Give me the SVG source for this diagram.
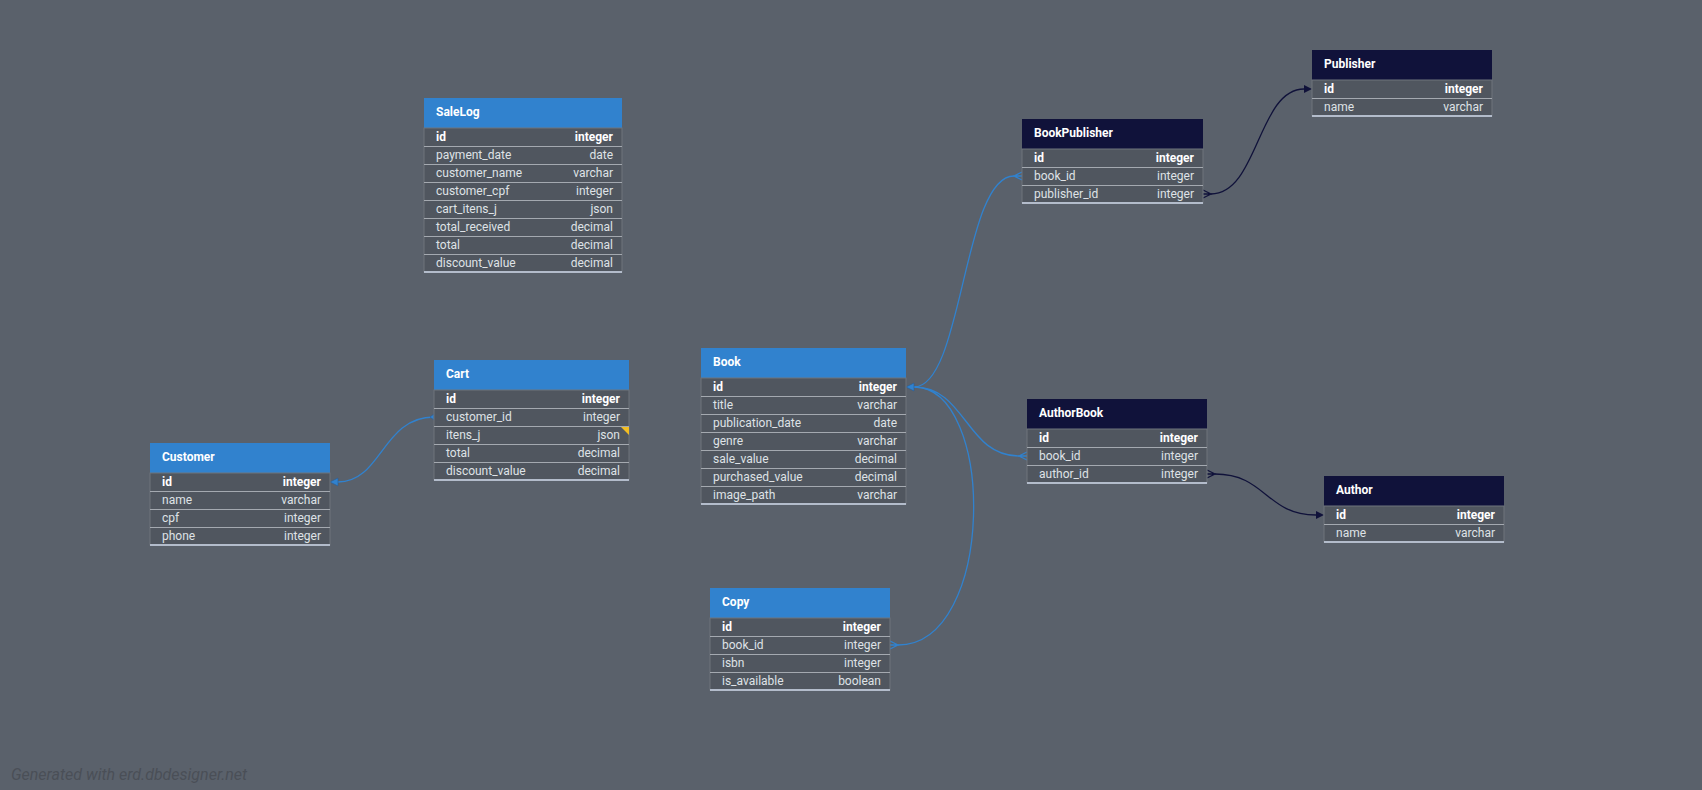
<svg xmlns="http://www.w3.org/2000/svg" width="1702" height="790" viewBox="0 0 1702 790">
  <style>
    .bg { fill: #5a616b; }
    .hb { fill: #3182ce; }
    .hd { fill: #10123a; }
    .body { fill: #50565f; stroke: #6e747d; stroke-width: 1; }
    .sep { stroke: #a4a9b0; stroke-width: 1; }
    .end { stroke: #b3bccb; stroke-width: 2; }
    .title { font-family: Roboto, "Liberation Sans", sans-serif; font-size: 12px; font-weight: bold; fill: #ffffff; }
    .c { font-family: Roboto, "Liberation Sans", sans-serif; font-size: 12px; fill: #dfe2e6; }
    .k { font-weight: bold; fill: #ffffff; }
    .r { text-anchor: end; }
    .note { fill: #f2bd22; }
    .lb { fill: none; stroke: #3182ce; stroke-width: 1.3; }
    .ld { fill: none; stroke: #10123a; stroke-width: 1.3; }
    .ab { fill: #3182ce; stroke: #2a5d96; stroke-width: 0.6; }
    .ad { fill: #10123a; }
    .foot { font-family: Roboto, "Liberation Sans", sans-serif; font-size: 16px; font-style: italic; fill: #4a4f57; }
  </style>

  <rect class="bg" x="0" y="0" width="1702" height="790"/>

  <!-- relations -->
  <g id="connectors">
    <!-- Cart.customer_id -> Customer.id -->
    <path class="lb" d="M434 417 C382 417 382 482 338 482"/>
    <polygon class="ab" points="330,482 338,478 338,486"/>
    <polygon class="ab" points="430,417 434,414 434,420"/>

    <!-- BookPublisher.book_id -> Book.id -->
    <path class="lb" d="M1014 176 C963 176 963 387 914 387"/>
    <path class="lb" d="M1022 172 L1014 176 L1022 180 M1022 176 L1014 176"/>

    <!-- AuthorBook.book_id -> Book.id -->
    <path class="lb" d="M1019 456 C966 456 966 387 914 387"/>
    <path class="lb" d="M1027 452 L1019 456 L1027 460 M1027 456 L1019 456"/>

    <!-- Copy.book_id -> Book.id -->
    <path class="lb" d="M898 645 C996 645 996 387 914 387"/>
    <path class="lb" d="M890 641 L898 645 L890 649 M890 645 L898 645"/>

    <polygon class="ab" points="906,387 914,383 914,391"/>

    <!-- BookPublisher.publisher_id -> Publisher.id -->
    <path class="ld" d="M1211 194 C1258 194 1258 89 1304 89"/>
    <path class="ld" d="M1203 190 L1211 194 L1203 198 M1203 194 L1211 194"/>
    <polygon class="ad" points="1312,89 1304,85 1304,93"/>

    <!-- AuthorBook.author_id -> Author.id -->
    <path class="ld" d="M1215 474 C1266 474 1266 515 1316 515"/>
    <path class="ld" d="M1207 470 L1215 474 L1207 478 M1207 474 L1215 474"/>
    <polygon class="ad" points="1324,515 1316,511 1316,519"/>
  </g>

  <!-- SaleLog -->
  <g id="salelog" transform="translate(424,98)">
    <rect class="hb" width="198" height="30"/>
    <text class="title" x="12" y="18">SaleLog</text>
    <rect class="body" y="30" width="198" height="144"/>
    <line class="sep" x1="0" y1="48.5" x2="198" y2="48.5"/>
    <line class="sep" x1="0" y1="66.5" x2="198" y2="66.5"/>
    <line class="sep" x1="0" y1="84.5" x2="198" y2="84.5"/>
    <line class="sep" x1="0" y1="102.5" x2="198" y2="102.5"/>
    <line class="sep" x1="0" y1="120.5" x2="198" y2="120.5"/>
    <line class="sep" x1="0" y1="138.5" x2="198" y2="138.5"/>
    <line class="sep" x1="0" y1="156.5" x2="198" y2="156.5"/>
    <line class="end" x1="0" y1="174" x2="198" y2="174"/>
    <text class="c k" x="12" y="42.5">id</text><text class="c k r" x="189" y="42.5">integer</text>
    <text class="c" x="12" y="60.5">payment_date</text><text class="c r" x="189" y="60.5">date</text>
    <text class="c" x="12" y="78.5">customer_name</text><text class="c r" x="189" y="78.5">varchar</text>
    <text class="c" x="12" y="96.5">customer_cpf</text><text class="c r" x="189" y="96.5">integer</text>
    <text class="c" x="12" y="114.5">cart_itens_j</text><text class="c r" x="189" y="114.5">json</text>
    <text class="c" x="12" y="132.5">total_received</text><text class="c r" x="189" y="132.5">decimal</text>
    <text class="c" x="12" y="150.5">total</text><text class="c r" x="189" y="150.5">decimal</text>
    <text class="c" x="12" y="168.5">discount_value</text><text class="c r" x="189" y="168.5">decimal</text>
  </g>

  <!-- Cart -->
  <g id="cart" transform="translate(434,360)">
    <rect class="hb" width="195" height="30"/>
    <text class="title" x="12" y="18">Cart</text>
    <rect class="body" y="30" width="195" height="90"/>
    <line class="sep" x1="0" y1="48.5" x2="195" y2="48.5"/>
    <line class="sep" x1="0" y1="66.5" x2="195" y2="66.5"/>
    <line class="sep" x1="0" y1="84.5" x2="195" y2="84.5"/>
    <line class="sep" x1="0" y1="102.5" x2="195" y2="102.5"/>
    <line class="end" x1="0" y1="120" x2="195" y2="120"/>
    <polygon class="note" points="187,67 195,67 195,75"/>
    <text class="c k" x="12" y="42.5">id</text><text class="c k r" x="186" y="42.5">integer</text>
    <text class="c" x="12" y="60.5">customer_id</text><text class="c r" x="186" y="60.5">integer</text>
    <text class="c" x="12" y="78.5">itens_j</text><text class="c r" x="186" y="78.5">json</text>
    <text class="c" x="12" y="96.5">total</text><text class="c r" x="186" y="96.5">decimal</text>
    <text class="c" x="12" y="114.5">discount_value</text><text class="c r" x="186" y="114.5">decimal</text>
  </g>

  <!-- Customer -->
  <g id="customer" transform="translate(150,443)">
    <rect class="hb" width="180" height="30"/>
    <text class="title" x="12" y="18">Customer</text>
    <rect class="body" y="30" width="180" height="72"/>
    <line class="sep" x1="0" y1="48.5" x2="180" y2="48.5"/>
    <line class="sep" x1="0" y1="66.5" x2="180" y2="66.5"/>
    <line class="sep" x1="0" y1="84.5" x2="180" y2="84.5"/>
    <line class="end" x1="0" y1="102" x2="180" y2="102"/>
    <text class="c k" x="12" y="42.5">id</text><text class="c k r" x="171" y="42.5">integer</text>
    <text class="c" x="12" y="60.5">name</text><text class="c r" x="171" y="60.5">varchar</text>
    <text class="c" x="12" y="78.5">cpf</text><text class="c r" x="171" y="78.5">integer</text>
    <text class="c" x="12" y="96.5">phone</text><text class="c r" x="171" y="96.5">integer</text>
  </g>

  <!-- Book -->
  <g id="book" transform="translate(701,348)">
    <rect class="hb" width="205" height="30"/>
    <text class="title" x="12" y="18">Book</text>
    <rect class="body" y="30" width="205" height="126"/>
    <line class="sep" x1="0" y1="48.5" x2="205" y2="48.5"/>
    <line class="sep" x1="0" y1="66.5" x2="205" y2="66.5"/>
    <line class="sep" x1="0" y1="84.5" x2="205" y2="84.5"/>
    <line class="sep" x1="0" y1="102.5" x2="205" y2="102.5"/>
    <line class="sep" x1="0" y1="120.5" x2="205" y2="120.5"/>
    <line class="sep" x1="0" y1="138.5" x2="205" y2="138.5"/>
    <line class="end" x1="0" y1="156" x2="205" y2="156"/>
    <text class="c k" x="12" y="42.5">id</text><text class="c k r" x="196" y="42.5">integer</text>
    <text class="c" x="12" y="60.5">title</text><text class="c r" x="196" y="60.5">varchar</text>
    <text class="c" x="12" y="78.5">publication_date</text><text class="c r" x="196" y="78.5">date</text>
    <text class="c" x="12" y="96.5">genre</text><text class="c r" x="196" y="96.5">varchar</text>
    <text class="c" x="12" y="114.5">sale_value</text><text class="c r" x="196" y="114.5">decimal</text>
    <text class="c" x="12" y="132.5">purchased_value</text><text class="c r" x="196" y="132.5">decimal</text>
    <text class="c" x="12" y="150.5">image_path</text><text class="c r" x="196" y="150.5">varchar</text>
  </g>

  <!-- Copy -->
  <g id="copy" transform="translate(710,588)">
    <rect class="hb" width="180" height="30"/>
    <text class="title" x="12" y="18">Copy</text>
    <rect class="body" y="30" width="180" height="72"/>
    <line class="sep" x1="0" y1="48.5" x2="180" y2="48.5"/>
    <line class="sep" x1="0" y1="66.5" x2="180" y2="66.5"/>
    <line class="sep" x1="0" y1="84.5" x2="180" y2="84.5"/>
    <line class="end" x1="0" y1="102" x2="180" y2="102"/>
    <text class="c k" x="12" y="42.5">id</text><text class="c k r" x="171" y="42.5">integer</text>
    <text class="c" x="12" y="60.5">book_id</text><text class="c r" x="171" y="60.5">integer</text>
    <text class="c" x="12" y="78.5">isbn</text><text class="c r" x="171" y="78.5">integer</text>
    <text class="c" x="12" y="96.5">is_available</text><text class="c r" x="171" y="96.5">boolean</text>
  </g>

  <!-- BookPublisher -->
  <g id="bookpublisher" transform="translate(1022,119)">
    <rect class="hd" width="181" height="30"/>
    <text class="title" x="12" y="18">BookPublisher</text>
    <rect class="body" y="30" width="181" height="54"/>
    <line class="sep" x1="0" y1="48.5" x2="181" y2="48.5"/>
    <line class="sep" x1="0" y1="66.5" x2="181" y2="66.5"/>
    <line class="end" x1="0" y1="84" x2="181" y2="84"/>
    <text class="c k" x="12" y="42.5">id</text><text class="c k r" x="172" y="42.5">integer</text>
    <text class="c" x="12" y="60.5">book_id</text><text class="c r" x="172" y="60.5">integer</text>
    <text class="c" x="12" y="78.5">publisher_id</text><text class="c r" x="172" y="78.5">integer</text>
  </g>

  <!-- Publisher -->
  <g id="publisher" transform="translate(1312,50)">
    <rect class="hd" width="180" height="30"/>
    <text class="title" x="12" y="18">Publisher</text>
    <rect class="body" y="30" width="180" height="36"/>
    <line class="sep" x1="0" y1="48.5" x2="180" y2="48.5"/>
    <line class="end" x1="0" y1="66" x2="180" y2="66"/>
    <text class="c k" x="12" y="42.5">id</text><text class="c k r" x="171" y="42.5">integer</text>
    <text class="c" x="12" y="60.5">name</text><text class="c r" x="171" y="60.5">varchar</text>
  </g>

  <!-- AuthorBook -->
  <g id="authorbook" transform="translate(1027,399)">
    <rect class="hd" width="180" height="30"/>
    <text class="title" x="12" y="18">AuthorBook</text>
    <rect class="body" y="30" width="180" height="54"/>
    <line class="sep" x1="0" y1="48.5" x2="180" y2="48.5"/>
    <line class="sep" x1="0" y1="66.5" x2="180" y2="66.5"/>
    <line class="end" x1="0" y1="84" x2="180" y2="84"/>
    <text class="c k" x="12" y="42.5">id</text><text class="c k r" x="171" y="42.5">integer</text>
    <text class="c" x="12" y="60.5">book_id</text><text class="c r" x="171" y="60.5">integer</text>
    <text class="c" x="12" y="78.5">author_id</text><text class="c r" x="171" y="78.5">integer</text>
  </g>

  <!-- Author -->
  <g id="author" transform="translate(1324,476)">
    <rect class="hd" width="180" height="30"/>
    <text class="title" x="12" y="18">Author</text>
    <rect class="body" y="30" width="180" height="36"/>
    <line class="sep" x1="0" y1="48.5" x2="180" y2="48.5"/>
    <line class="end" x1="0" y1="66" x2="180" y2="66"/>
    <text class="c k" x="12" y="42.5">id</text><text class="c k r" x="171" y="42.5">integer</text>
    <text class="c" x="12" y="60.5">name</text><text class="c r" x="171" y="60.5">varchar</text>
  </g>

  <text class="foot" x="11" y="780">Generated with erd.dbdesigner.net</text>
</svg>
